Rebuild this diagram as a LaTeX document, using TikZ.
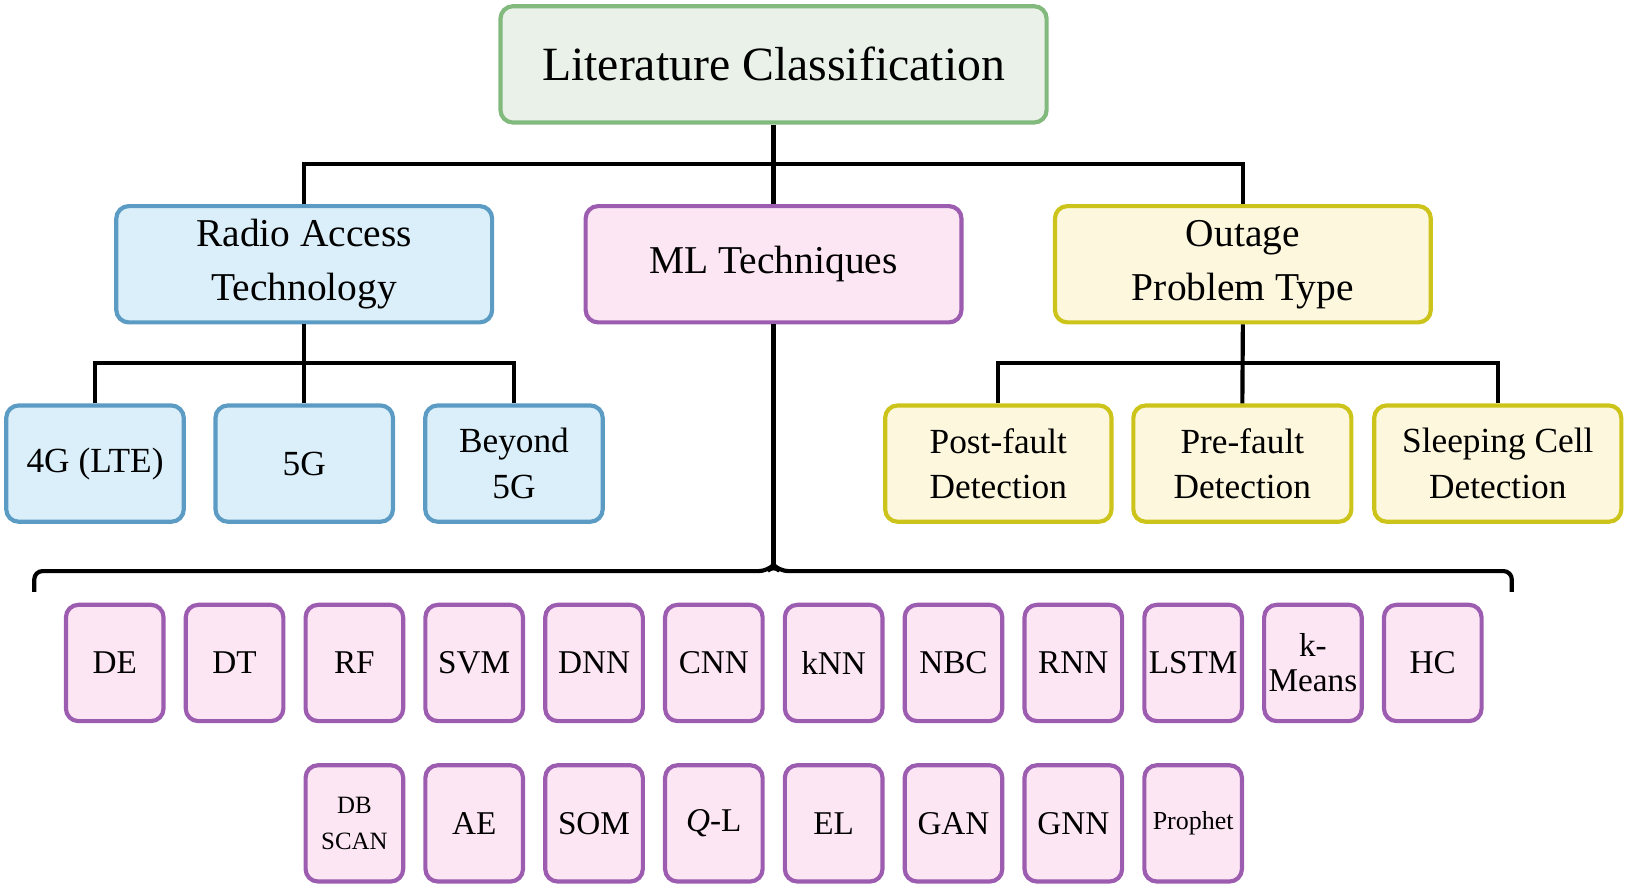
\documentclass[tikz,border=0pt]{standalone}
\usepackage{fontspec}
\setmainfont{Liberation Serif}
\begin{document}
\begin{tikzpicture}[x=1pt,y=-1pt,
 bx/.style={draw,line width=4pt,rounded corners=12pt,align=center,inner sep=0pt},
 gr/.style={bx,draw={rgb,255:red,130;green,185;blue,125},fill={rgb,255:red,233;green,241;blue,233}},
 bl/.style={bx,draw={rgb,255:red,92;green,156;blue,196},fill={rgb,255:red,218;green,239;blue,249}},
 pk/.style={bx,draw={rgb,255:red,156;green,92;blue,176},fill={rgb,255:red,253;green,230;blue,244}},
 yl/.style={bx,draw={rgb,255:red,204;green,196;blue,26},fill={rgb,255:red,253;green,247;blue,221}},
 ln/.style={line width=4pt,black},
 sm/.style={pk,minimum width=94pt,minimum height=112pt,font=\fontsize{32}{34}\selectfont}]
\useasboundingbox (0,0) rectangle (1566,856);
\node[gr,minimum width=526pt,minimum height=112pt,font=\fontsize{46}{48}\selectfont] (root) at (745,62) {Literature Classification};
\node[bl,minimum width=362pt,minimum height=112pt,font=\fontsize{38}{52}\selectfont] (rat) at (293,254.5) {Radio Access\\Technology};
\node[pk,minimum width=362pt,minimum height=112pt,font=\fontsize{38}{52}\selectfont] (ml) at (745,254.5) {ML Techniques};
\node[yl,minimum width=362pt,minimum height=112pt,font=\fontsize{38}{52}\selectfont] (out) at (1197,254.5) {Outage\\Problem Type};
\begin{scope}[every node/.append style={minimum height=112pt,font=\fontsize{34}{44}\selectfont}]
\node[bl,minimum width=171pt] (g4) at (91.5,446.5) {4G (LTE)};
\node[bl,minimum width=171pt] (g5) at (293,446.5) {5G};
\node[bl,minimum width=171pt] (gb) at (495,446.5) {Beyond\\5G};
\node[yl,minimum width=218pt] (post) at (961.5,446.5) {Post-fault\\Detection};
\node[yl,minimum width=210pt] (pre) at (1196.5,446.5) {Pre-fault\\Detection};
\node[yl,minimum width=238pt] (slp) at (1442.5,446.5) {Sleeping Cell\\Detection};
\end{scope}
% connectors
\draw[ln] (root.south) -- (ml.north);
\draw[ln] (rat.north) -- (293,158) -- (1197,158) -- (out.north);
\draw[ln] (rat.south) -- (g5.north);
\draw[ln] (g4.north) -- (91.5,350) -- (495,350) -- (gb.north);
\draw[ln] (out.south) -- (pre.north);
\draw[ln] (post.north) -- (961.5,350) -- (1442.5,350) -- (slp.north);
\coordinate (bt) at (745,544);
\draw[ln] (ml.south) -- (bt);
\draw[ln,rounded corners=8pt] (33,570) -- (33,550) -- (739,550) -- (bt) -- (751,550) -- (1456,550) -- (1456,570);
% ML boxes
\foreach \t [count=\i from 0] in {DE,DT,RF,SVM,DNN,CNN,kNN,NBC,RNN,LSTM,{k-\\Means},HC}
 \node[sm] (a\i) at (110.5+115.4*\i,638.5) {\t};
\node[sm,font=\fontsize{24}{34}\selectfont] (b0) at (341.3,793) {DB\\SCAN};
\foreach \t [count=\i from 1] in {AE,SOM,{\textit{Q}-L},EL,GAN,GNN}
 \node[sm] (b\i) at (341.3+115.4*\i,793) {\t};
\node[sm,font=\fontsize{25}{30}\selectfont] (b7) at (341.3+115.4*7,793) {Prophet};
\end{tikzpicture}
\end{document}
